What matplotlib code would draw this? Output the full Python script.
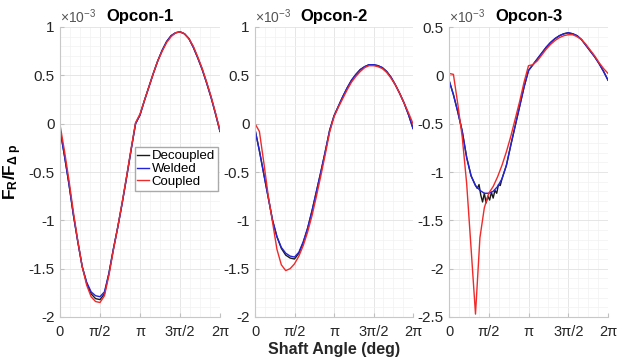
import numpy as np
import matplotlib
matplotlib.use('Agg')
import matplotlib.pyplot as plt
from matplotlib.ticker import FixedLocator, FixedFormatter, AutoMinorLocator

plt.rcParams['font.family'] = ['Liberation Sans', 'DejaVu Sans']
plt.rcParams['mathtext.fontset'] = 'custom'
plt.rcParams['mathtext.rm'] = 'Liberation Sans'
plt.rcParams['mathtext.bf'] = 'Liberation Sans:bold'
plt.rcParams['mathtext.it'] = 'Liberation Sans:italic'

# shaft angle samples (deg); force ratio values are in units of 1e-3
ang = list(range(0, 361, 10))

op1_dec = [-0.06, -0.33, -0.62, -0.94, -1.22, -1.48, -1.65, -1.76, -1.81, -1.82,
           -1.76, -1.55, -1.30, -1.07, -0.82, -0.55, -0.27, 0.00, 0.09, 0.24,
           0.38, 0.52, 0.65, 0.76, 0.85, 0.91, 0.94, 0.95, 0.93, 0.88,
           0.79, 0.68, 0.56, 0.42, 0.27, 0.10, -0.08]
op1_wel = [-0.06, -0.33, -0.62, -0.94, -1.22, -1.48, -1.64, -1.74, -1.78, -1.79,
           -1.74, -1.55, -1.30, -1.07, -0.82, -0.55, -0.27, 0.00, 0.09, 0.24,
           0.38, 0.52, 0.65, 0.76, 0.85, 0.91, 0.94, 0.95, 0.93, 0.88,
           0.79, 0.68, 0.56, 0.42, 0.27, 0.10, -0.08]
op1_cou = [-0.01, -0.28, -0.58, -0.91, -1.21, -1.48, -1.67, -1.79, -1.84, -1.85,
           -1.78, -1.57, -1.31, -1.07, -0.81, -0.54, -0.26, 0.01, 0.10, 0.24,
           0.38, 0.52, 0.65, 0.75, 0.84, 0.90, 0.94, 0.95, 0.93, 0.88,
           0.80, 0.69, 0.57, 0.43, 0.28, 0.11, -0.07]

op2_dec = [-0.06, -0.28, -0.52, -0.76, -1.00, -1.17, -1.29, -1.36, -1.39, -1.40,
           -1.34, -1.23, -1.08, -0.90, -0.70, -0.50, -0.29, -0.07, 0.08, 0.18,
           0.28, 0.37, 0.45, 0.51, 0.56, 0.59, 0.61, 0.61, 0.60, 0.58,
           0.54, 0.48, 0.40, 0.31, 0.21, 0.09, -0.05]
op2_wel = [-0.06, -0.28, -0.52, -0.76, -1.00, -1.17, -1.28, -1.34, -1.37, -1.38,
           -1.33, -1.22, -1.08, -0.90, -0.70, -0.50, -0.29, -0.07, 0.08, 0.18,
           0.28, 0.37, 0.45, 0.51, 0.56, 0.59, 0.61, 0.61, 0.60, 0.58,
           0.54, 0.48, 0.40, 0.31, 0.21, 0.09, -0.05]
op2_cou = [0.00, -0.08, -0.40, -0.74, -1.02, -1.30, -1.46, -1.52, -1.50, -1.45,
           -1.37, -1.26, -1.12, -0.95, -0.75, -0.54, -0.32, -0.09, 0.07, 0.17,
           0.26, 0.35, 0.43, 0.49, 0.54, 0.58, 0.60, 0.60, 0.59, 0.57,
           0.53, 0.47, 0.40, 0.31, 0.21, 0.11, 0.00]

# Opcon-3 decoupled run is noisy near the trough, sampled finer there
ang3_dec = [0, 10, 20, 30, 40, 50, 60, 64, 68, 72, 76, 80, 84, 88, 92, 96, 100,
            104, 108, 112, 116, 120, 130, 140, 150, 160, 170, 180, 190, 200,
            210, 220, 230, 240, 250, 260, 270, 280, 290, 300, 310, 320, 330,
            340, 350, 360]
op3_dec = [-0.05, -0.20, -0.38, -0.58, -0.85, -1.04, -1.14, -1.17, -1.13, -1.24,
           -1.31, -1.22, -1.32, -1.25, -1.29, -1.21, -1.27, -1.19, -1.22, -1.13,
           -1.14, -1.07, -0.93, -0.72, -0.52, -0.32, -0.12, 0.05, 0.11, 0.17,
           0.23, 0.29, 0.34, 0.38, 0.41, 0.43, 0.44, 0.43, 0.41, 0.37,
           0.31, 0.25, 0.19, 0.12, 0.04, -0.05]
op3_wel = [-0.05, -0.20, -0.38, -0.58, -0.85, -1.04, -1.14, -1.19, -1.22, -1.22,
           -1.20, -1.15, -1.07, -0.93, -0.72, -0.52, -0.32, -0.12, 0.05, 0.11,
           0.17, 0.23, 0.29, 0.34, 0.38, 0.41, 0.43, 0.44, 0.43, 0.41,
           0.37, 0.31, 0.25, 0.19, 0.12, 0.04, -0.05]
op3_cou = [0.02, 0.01, -0.30, -0.64, -1.12, -1.79, -2.47, -1.68, -1.37, -1.22,
           -1.15, -1.05, -0.93, -0.79, -0.63, -0.45, -0.27, -0.07, 0.10, 0.11,
           0.15, 0.21, 0.27, 0.32, 0.36, 0.39, 0.41, 0.42, 0.42, 0.40,
           0.37, 0.32, 0.26, 0.20, 0.13, 0.07, 0.02]

titles = ['Opcon-1', 'Opcon-2', 'Opcon-3']
labels = ['Decoupled', 'Welded', 'Coupled']
xticks_lbl = ['0', '\u03c0/2', '\u03c0', '3\u03c0/2', '2\u03c0']
ylims = [(-2, 1), (-2, 1), (-2.5, 0.5)]
yticks = [[-2, -1.5, -1, -0.5, 0, 0.5, 1],
          [-2, -1.5, -1, -0.5, 0, 0.5, 1],
          [-2.5, -2, -1.5, -1, -0.5, 0, 0.5]]
yticks_lbl = [['-2', '-1.5', '-1', '-0.5', '0', '0.5', '1'],
              ['-2', '-1.5', '-1', '-0.5', '0', '0.5', '1'],
              ['-2.5', '-2', '-1.5', '-1', '-0.5', '0', '0.5']]

series = [
    [(ang, op1_dec), (ang, op1_wel), (ang, op1_cou)],
    [(ang, op2_dec), (ang, op2_wel), (ang, op2_cou)],
    [(ang3_dec, op3_dec), (ang, op3_wel), (ang, op3_cou)],
]
colors = ['#1a1a1a', '#2323d8', '#f02a2a']

fig = plt.figure(figsize=(6.22, 3.59), dpi=100)
lefts = [60 / 622, 255 / 622, 449 / 622]
widths = [160 / 622, 158 / 622, 159 / 622]
bottom = 1 - 317 / 359
height = 290 / 359

axes = []
for i in range(3):
    ax = fig.add_axes([lefts[i], bottom, widths[i], height])
    axes.append(ax)
    for (x, y), c, lb in zip(series[i], colors, labels):
        ax.plot(np.radians(x), y, color=c, lw=1.0, label=lb)
    ax.set_xlim(0, 2 * np.pi)
    ax.set_ylim(*ylims[i])
    ax.xaxis.set_major_locator(FixedLocator([0, np.pi / 2, np.pi, 1.5 * np.pi, 2 * np.pi]))
    ax.xaxis.set_major_formatter(FixedFormatter(xticks_lbl))
    ax.yaxis.set_major_locator(FixedLocator(yticks[i]))
    ax.yaxis.set_major_formatter(FixedFormatter(yticks_lbl[i]))
    ax.xaxis.set_minor_locator(AutoMinorLocator(4))
    ax.yaxis.set_minor_locator(AutoMinorLocator(5))
    ax.grid(which='major', color='#e2e2e2', lw=0.6)
    ax.grid(which='minor', color='#f2f2f2', lw=0.5)
    ax.set_axisbelow(True)
    for s in ['top', 'right']:
        ax.spines[s].set_visible(False)
    for s in ['left', 'bottom']:
        ax.spines[s].set_color('#c8c8c8')
        ax.spines[s].set_linewidth(0.8)
    ax.tick_params(which='both', direction='in', length=3, color='#c0c0c0',
                   labelsize=11, labelcolor='#262626', pad=4)
    ax.tick_params(which='minor', length=0)
    ax.tick_params(axis='x', labelsize=10.5, pad=6)
    ax.set_title(titles[i], fontsize=12, fontweight='bold', pad=4)
    ax.text(0.0, 1.005, r'$\times10^{-3}$', transform=ax.transAxes,
            fontsize=10, color='#555555', ha='left', va='bottom')

axes[0].legend(loc='upper right', bbox_to_anchor=(0.985, 0.585), fontsize=9.5,
               handlelength=0.9, handletextpad=0.2, borderpad=0.2,
               labelspacing=0.05, borderaxespad=0, fancybox=False,
               edgecolor='#aaaaaa', framealpha=1)
axes[0].set_ylabel(r'$\mathbf{F_R/F_{\Delta\ p}}$', fontsize=12.5, labelpad=3)
axes[1].set_xlabel('Shaft Angle (deg)', fontsize=11.5, fontweight='bold',
                   color='#262626', labelpad=2)

fig.savefig('out.png', dpi=100)
